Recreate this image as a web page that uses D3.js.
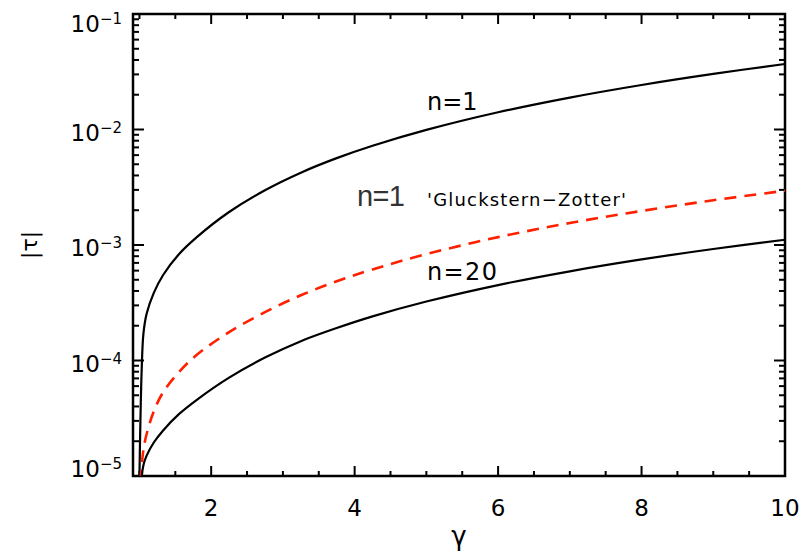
<!DOCTYPE html>
<html>
<head>
<meta charset="utf-8">
<script src="https://cdn.jsdelivr.net/npm/d3@7"></script>
<style>
  body { margin: 0; background: #fff; }
  text { font-family: "DejaVu Sans", sans-serif; fill: #000; }
</style>
</head>
<body>
<svg id="chart" width="806" height="554"></svg>
<script>
// values
const gamma  = [1.0, 1.01, 1.03, 1.055, 1.1, 1.2, 1.33, 1.55, 1.8, 2.25, 2.75, 3.25, 3.75, 4.25, 5, 6, 7, 8, 9, 10];
const tauN1  = [1.00e-5, 2.34e-5, 7.94e-5, 1.70e-4, 2.54e-4, 3.85e-4, 5.50e-4, 8.32e-4, 1.17e-3, 1.93e-3, 2.98e-3, 4.23e-3, 5.65e-3, 7.23e-3, 9.92e-3, 1.41e-2, 1.89e-2, 2.43e-2, 3.03e-2, 3.69e-2];
const tauGZ  = [3.98e-6, 7.94e-6, 1.20e-5, 1.68e-5, 2.31e-5, 3.63e-5, 5.31e-5, 7.94e-5, 1.12e-4, 1.76e-4, 2.62e-4, 3.67e-4, 4.85e-4, 6.15e-4, 8.34e-4, 1.17e-3, 1.55e-3, 1.97e-3, 2.44e-3, 2.95e-3];
const tauN20 = [2.51e-6, 4.47e-6, 9.55e-6, 1.24e-5, 1.50e-5, 1.95e-5, 2.48e-5, 3.43e-5, 4.57e-5, 7.11e-5, 1.06e-4, 1.47e-4, 1.91e-4, 2.41e-4, 3.24e-4, 4.50e-4, 5.92e-4, 7.50e-4, 9.23e-4, 1.11e-3];

const xMajor = [2, 4, 6, 8, 10];
const xMinor = [1, 1.5, 2.5, 3, 3.5, 4.5, 5, 5.5, 6.5, 7, 7.5, 8.5, 9, 9.5];
const yExp = [-1, -2, -3, -4, -5];

const margin = { left: 133, top: 14, right: 21, bottom: 78 };
const width = 806 - margin.left - margin.right;
const height = 554 - margin.top - margin.bottom;

const svg = d3.select("#chart");
const g = svg.append("g").attr("transform", `translate(${margin.left},${margin.top})`);

const x = d3.scaleLinear().domain([0.91, 10]).range([0, width]);
const y = d3.scaleLog().domain([1e-5, 1e-1]).range([height, 0]);

g.append("clipPath").attr("id", "clip")
    .append("rect").attr("width", width).attr("height", height);

// y minor ticks 2..9 x 10^k
const yMinor = [];
yExp.slice(1).forEach(e => {
    for (let m = 2; m <= 9; m++) yMinor.push(m * Math.pow(10, e));
});

function tickLines(sel, vals, horiz, pos, len) {
    sel.selectAll(null).data(vals).enter().append("line")
        .attr("x1", d => horiz ? x(d) : pos)
        .attr("x2", d => horiz ? x(d) : pos + len)
        .attr("y1", d => horiz ? pos : y(d))
        .attr("y2", d => horiz ? pos + len : y(d))
        .attr("stroke", "#000")
        .attr("stroke-width", 2);
}

const ticks = g.append("g");
tickLines(ticks, xMajor, true, height, -10);
tickLines(ticks, xMinor, true, height, -5);
tickLines(ticks, xMajor, true, 0, 10);
tickLines(ticks, xMinor, true, 0, 5);
const yMajorVals = yExp.map(e => Math.pow(10, e));
tickLines(ticks, yMajorVals, false, 0, 11);
tickLines(ticks, yMinor, false, 0, 6);
tickLines(ticks, yMajorVals, false, width, -11);
tickLines(ticks, yMinor, false, width, -6);

// frame
g.append("rect")
    .attr("width", width).attr("height", height)
    .attr("fill", "none").attr("stroke", "#000").attr("stroke-width", 2.5);

// x tick labels
g.selectAll(".xl").data(xMajor).enter().append("text")
    .attr("x", d => x(d)).attr("y", height + 40)
    .attr("text-anchor", "middle").attr("font-size", 23)
    .text(d => d);

// y tick labels with superscripts, ends nudged inside like the original
const yShift = { "-1": 18, "-5": 1 };
yExp.forEach(e => {
    const t = g.append("text")
        .attr("x", -11)
        .attr("y", y(Math.pow(10, e)) + (yShift[e] !== undefined ? yShift[e] : 11))
        .attr("text-anchor", "end");
    t.append("tspan").attr("font-size", 23).text("10");
    t.append("tspan").attr("font-size", 15).attr("dy", -8).text("\u2212" + Math.abs(e));
});

// axis titles
g.append("text")
    .attr("x", width / 2).attr("y", height + 69)
    .attr("text-anchor", "middle").attr("font-size", 26)
    .text("\u03b3");
g.append("text")
    .attr("transform", `translate(${-96},${height / 2}) rotate(-90)`)
    .attr("text-anchor", "middle").attr("font-size", 22)
    .text("|\u03c4|");

// curves
const line = d3.line()
    .x(d => x(d[0]))
    .y(d => y(d[1]))
    .curve(d3.curveCatmullRom.alpha(0.5));

const curves = g.append("g").attr("clip-path", "url(#clip)");
const series = [
    { vals: tauN1, color: "#000", dash: null, w: 2.2 },
    { vals: tauGZ, color: "#ff2000", dash: "12,8", w: 2.6 },
    { vals: tauN20, color: "#000", dash: null, w: 2.2 }
];
series.forEach(s => {
    curves.append("path")
        .datum(gamma.map((gm, i) => [gm, s.vals[i]]))
        .attr("d", line)
        .attr("fill", "none")
        .attr("stroke", s.color)
        .attr("stroke-width", s.w)
        .attr("stroke-dasharray", s.dash);
});

// annotations
function label(txt, px, py, size, len, fam, col) {
    const t = svg.append("text")
        .attr("x", px).attr("y", py)
        .attr("font-size", size)
        .style("font-family", fam || null)
        .style("fill", col || null)
        .text(txt);
    if (len) t.attr("textLength", len).attr("lengthAdjust", "spacing");
}
label("n=1", 427, 110, 24);
label("n=1", 357, 206, 29, 48, "'Liberation Sans', sans-serif", "#333");
label("'Gluckstern\u2212Zotter'", 427, 206, 18, 199);
label("n=20", 427, 280, 24, 70);
</script>
</body>
</html>
